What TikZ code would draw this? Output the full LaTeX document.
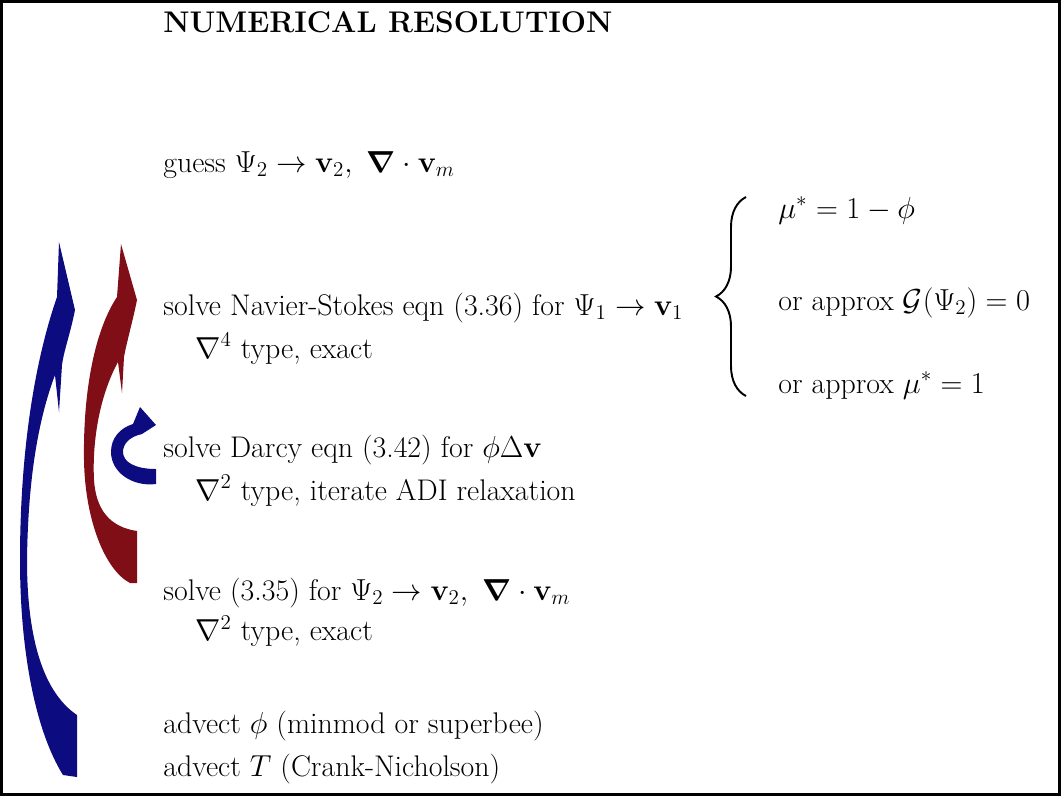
\documentclass[tikz,border=0pt]{standalone}
\usepackage{amsmath}
\usepackage{bm}
\usetikzlibrary{positioning, decorations.pathreplacing}
\definecolor{loopblue}{RGB}{12,12,128}
\definecolor{loopred}{RGB}{128,14,22}

\begin{document}
\begin{tikzpicture}[x=0.02cm, y=-0.02cm,
    every node/.style={font=\fontsize{17}{20}\selectfont, anchor=base west, inner sep=0pt},
    frame/.style={draw=black, line width=1.6pt},
    brace/.style={draw, line width=1.1pt, decorate, decoration={brace, amplitude=0.6cm}}]
    \useasboundingbox (0,0) rectangle (1061,796);
    \draw[frame] (1.5,1.5) rectangle (1059.5,794.5);
    \node[font=\fontsize{17}{20}\selectfont\bfseries] (title) at (163,32) {NUMERICAL RESOLUTION};
    \node (guess) at (163,172) {guess $\Psi_2 \rightarrow \mathbf{v}_2,\ \bm{\nabla}\cdot\mathbf{v}_m$};
    \node (navier) at (163,315) {solve Navier-Stokes eqn (3.36) for $\Psi_1 \rightarrow \mathbf{v}_1$};
    \node (navierSub) at (195,358) {$\nabla^4$ type, exact};
    \node (darcy) at (163,457) {solve Darcy eqn (3.42) for $\phi\Delta\mathbf{v}$};
    \node (darcySub) at (195,500) {$\nabla^2$ type, iterate ADI relaxation};
    \node (psiTwo) at (163,600) {solve (3.35) for $\Psi_2 \rightarrow \mathbf{v}_2,\ \bm{\nabla}\cdot\mathbf{v}_m$};
    \node (psiTwoSub) at (195,640) {$\nabla^2$ type, exact};
    \node (advPhi) at (163,733) {advect $\phi$ (minmod or superbee)};
    \node (advT) at (163,776) {advect $T$ (Crank-Nicholson)};
    % viscosity options
    \node (muA) at (778,218) {$\mu^* = 1-\phi$};
    \node (muB) at (778,310) {or approx $\mathcal{G}(\Psi_2)=0$};
    \node (muC) at (778,393) {or approx $\mu^* = 1$};
    \coordinate (braceTop) at (746,197);
    \coordinate (braceBot) at (746,396);
    \draw[brace] (braceBot) -- (braceTop);
    % outer loop
    \fill[loopblue] (59,242) -- (75,310) .. controls (70,335) and (64,350) .. (62,365) -- (59,412) -- (55,375)
      .. controls (38,420) and (28,480) .. (27,560) .. controls (27,630) and (40,690) .. (77,715)
      -- (77,777) -- (63,775) .. controls (35,730) and (20,650) .. (20,560)
      .. controls (20,450) and (35,360) .. (57,297) -- cycle;
    % inner loop
    \fill[loopred] (121,244) -- (137,300) .. controls (133,320) and (126,345) .. (124,357) -- (122,393) -- (118,362)
      .. controls (100,395) and (92,440) .. (94,480) .. controls (96,510) and (110,527) .. (137,531)
      -- (137,583) -- (130,583) .. controls (105,570) and (85,520) .. (84,460)
      .. controls (83,390) and (95,330) .. (117,297) -- cycle;
    % Darcy iteration
    \fill[loopblue] (156,469) -- (156,484) .. controls (132,487) and (111,472) .. (111,452)
      .. controls (111,438) and (120,428) .. (133,424) -- (140,407) -- (156,425) -- (142,434)
      .. controls (128,437) and (123,445) .. (123,452) .. controls (123,462) and (135,469) .. (156,469) -- cycle;
\end{tikzpicture}
\end{document}
